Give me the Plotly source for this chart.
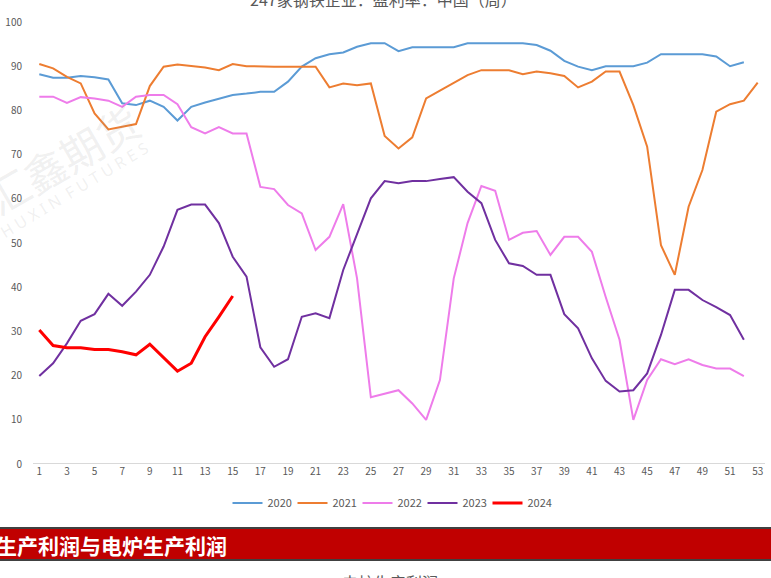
import plotly.graph_objects as go

weeks = list(range(1, 54))

y2020 = [88.2, 87.4, 87.4, 87.8, 87.5, 87.0, 81.6, 81.2, 82.2, 80.8,
         77.7, 80.8, 81.8, 82.7, 83.5, 83.8, 84.2, 84.2, 86.5, 89.9,
         91.8, 92.7, 93.1, 94.4, 95.2, 95.2, 93.4, 94.3, 94.3, 94.3,
         94.3, 95.2, 95.2, 95.2, 95.2, 95.2, 94.8, 93.5, 91.2, 89.9,
         89.1, 90.0, 90.0, 90.0, 90.8, 92.7, 92.7, 92.7, 92.7, 92.2,
         90.0, 90.9]
y2021 = [90.5, 89.5, 87.6, 86.1, 79.3, 75.7, 76.3, 76.9, 85.5, 89.9,
         90.4, 90.1, 89.7, 89.1, 90.5, 90.0, 89.9, 89.9, 89.9, 89.9,
         89.9, 85.2, 86.1, 85.7, 86.1, 74.2, 71.4, 73.9, 82.7, 84.5,
         86.3, 88.0, 89.1, 89.1, 89.1, 88.2, 88.8, 88.4, 87.8, 85.2,
         86.5, 88.8, 88.8, 81.2, 71.8, 49.5, 42.8, 58.2, 66.5, 79.7,
         81.4, 82.2, 86.3]
y2022 = [83.1, 83.1, 81.7, 83.0, 82.7, 82.2, 80.8, 83.1, 83.5, 83.5,
         81.4, 76.2, 74.8, 76.2, 74.8, 74.8, 62.7, 62.2, 58.6, 56.7,
         48.4, 51.4, 58.8, 42.0, 15.1, 15.9, 16.7, 13.7, 10.0, 19.0,
         42.0, 54.5, 62.9, 61.8, 50.7, 52.3, 52.7, 47.3, 51.4, 51.4,
         48.0, 37.8, 28.1, 10.0, 19.0, 23.7, 22.6, 23.7, 22.4, 21.6,
         21.6, 19.9]
y2023 = [19.9, 22.8, 27.3, 32.4, 33.9, 38.5, 35.8, 39.0, 42.8, 49.2,
         57.5, 58.7, 58.7, 54.5, 46.9, 42.4, 26.4, 22.0, 23.7, 33.3,
         34.1, 33.0, 43.9, 52.2, 60.1, 64.0, 63.5, 64.0, 64.0, 64.5,
         64.9, 61.6, 59.0, 50.7, 45.4, 44.8, 42.8, 42.8, 33.9, 30.7,
         23.9, 18.8, 16.4, 16.7, 20.5, 29.2, 39.4, 39.4, 37.1, 35.5,
         33.7, 28.1]
y2024 = [30.3, 26.8, 26.3, 26.3, 25.9, 25.9, 25.4, 24.7, 27.1, 24.0,
         21.0, 22.8, 28.8, 33.3, 38.0]

series = [
    ("2020", y2020, "#5B9BD5", 2),
    ("2021", y2021, "#ED7D31", 2),
    ("2022", y2022, "#EE7CEA", 2),
    ("2023", y2023, "#7030A0", 2),
    ("2024", y2024, "#FF0000", 3),
]

W, H = 771, 578
L, R, T, B = 33, 6, 22, 114
PW, PH = W - L - R, H - T - B


def px(x):
    return (x - L) / PW


def py(y):
    return (H - B - y) / PH


fig = go.Figure()
for name, vals, color, width in series:
    fig.add_trace(go.Scatter(
        x=weeks[:len(vals)], y=vals, name=name, mode="lines",
        line=dict(color=color, width=width),
    ))

font_family = "Noto Sans CJK SC, Noto Sans, sans-serif"

fig.update_layout(
    width=W, height=H,
    margin=dict(l=L, r=R, t=T, b=B),
    paper_bgcolor="white", plot_bgcolor="white",
    font=dict(family=font_family, color="#595959", size=10),
    showlegend=True,
    legend=dict(
        orientation="h", x=px(390), xanchor="center",
        y=py(503), yanchor="middle",
        font=dict(size=11, color="#595959"),
        bgcolor="rgba(0,0,0,0)",
        itemwidth=30, entrywidth=20, entrywidthmode="pixels",
        tracegroupgap=0,
    ),
    xaxis=dict(
        range=[0.544, 53.53], tickmode="linear", tick0=1, dtick=2,
        showgrid=False, zeroline=False, showline=False,
        ticks="", tickfont=dict(size=10, color="#595959"),
        fixedrange=True, automargin=False,
    ),
    yaxis=dict(
        range=[0, 100], tickmode="linear", tick0=0, dtick=10,
        showgrid=False, zeroline=False, showline=False,
        ticks="outside", ticklen=8, tickcolor="rgba(0,0,0,0)",
        tickfont=dict(size=10, color="#595959"),
        fixedrange=True, automargin=False,
    ),
)

# bottom axis line
fig.add_shape(type="line", xref="paper", yref="y", x0=0, x1=1, y0=0, y1=0,
              line=dict(color="#D9D9D9", width=2), layer="below")

# watermark
fig.add_annotation(text="汇鑫期货", xref="paper", yref="paper",
                   x=px(62), y=py(158), showarrow=False, textangle=-30,
                   font=dict(size=42, color="rgba(150,150,150,0.15)",
                             family="Noto Sans CJK SC"),
                   xanchor="center", yanchor="middle")
fig.add_annotation(text="H U X I N  F U T U R E S", xref="paper", yref="paper",
                   x=px(74), y=py(190), showarrow=False, textangle=-31,
                   font=dict(size=16, color="rgba(150,150,150,0.15)",
                             family="Noto Sans"),
                   xanchor="center", yanchor="middle")

# title (cut off at top)
fig.add_annotation(text="247家钢铁企业：盈利率：中国（周）", xref="paper", yref="paper",
                   x=px(383), y=py(-1), showarrow=False,
                   font=dict(size=16, color="#595959", family="Noto Sans CJK SC"),
                   xanchor="center", yanchor="middle")

# red banner
fig.add_shape(type="rect", xref="paper", yref="paper",
              x0=px(-2), x1=px(773), y0=py(560), y1=py(528),
              fillcolor="#C00000", line=dict(width=0), layer="above")
fig.add_shape(type="line", xref="paper", yref="paper",
              x0=px(-2), x1=px(773), y0=py(528), y1=py(528),
              line=dict(color="#404040", width=2))
fig.add_shape(type="line", xref="paper", yref="paper",
              x0=px(-2), x1=px(773), y0=py(560), y1=py(560),
              line=dict(color="#404040", width=2))
fig.add_annotation(text="<b>生产利润与电炉生产利润</b>", xref="paper", yref="paper",
                   x=px(-6), y=py(545), showarrow=False,
                   font=dict(size=21, color="white", family="Noto Sans CJK SC"),
                   xanchor="left", yanchor="middle")

# next chart title (cut off at bottom)
fig.add_annotation(text="电炉生产利润", xref="paper", yref="paper",
                   x=px(390), y=py(582), showarrow=False,
                   font=dict(size=16, color="#595959", family="Noto Sans CJK SC"),
                   xanchor="center", yanchor="middle")

fig.write_html(
    "out.html",
    config={"displayModeBar": False, "staticPlot": True},
    post_script="document.body.style.margin='0';document.body.style.overflow='hidden';",
)
